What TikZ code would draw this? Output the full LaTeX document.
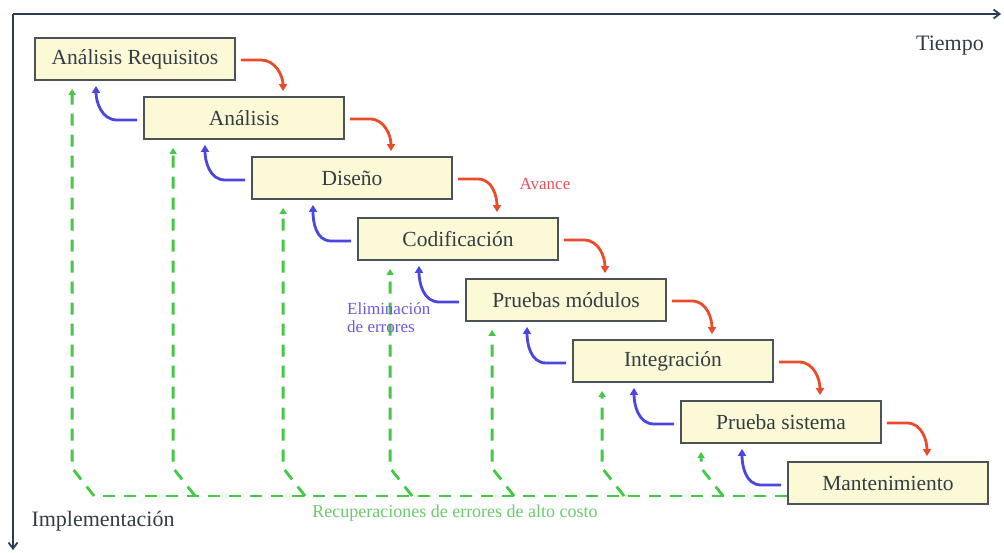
\documentclass[tikz,border=0pt]{standalone}
\usepackage{fontspec}
\setmainfont{Liberation Serif}
\newfontfamily\diagfont{Liberation Serif}
\usetikzlibrary{arrows.meta,calc}
\definecolor{boxfill}{HTML}{FCF9D6}
\definecolor{boxline}{HTML}{4A5358}
\definecolor{txt}{HTML}{333D44}
\definecolor{axis}{HTML}{2E3B55}
\definecolor{redc}{HTML}{EA4B2A}
\definecolor{bluec}{HTML}{4B46E0}
\definecolor{greenc}{HTML}{45C845}
\definecolor{avance}{HTML}{E8505A}
\definecolor{elim}{HTML}{6B5AE0}
\definecolor{recup}{HTML}{6CCB6C}
\tikzset{
  phase/.style={draw=boxline, line width=1.8pt, fill=boxfill, minimum width=200pt, minimum height=42pt, inner sep=0pt, text=txt, font=\diagfont\fontsize{21.5}{24}\selectfont},
  fwd/.style={draw=redc, line width=2.8pt, -{Triangle[length=7pt,width=8pt]}},
  back/.style={draw=bluec, line width=2.8pt, -{Triangle[length=7pt,width=8pt]}},
  rec/.style={draw=greenc, line width=2.8pt, dash pattern=on 12pt off 9pt},
  recarr/.style={rec, -{Triangle[length=6pt,width=7pt]}},
  ax/.style={draw=axis, line width=1.8pt, -{Straight Barb[length=6pt,width=9pt]}},
  lbl/.style={inner sep=0pt, font=\diagfont\fontsize{22}{25}\selectfont, text=txt}
}
\begin{document}
\begin{tikzpicture}[x=1pt,y=-1pt]
\useasboundingbox (0,0) rectangle (1004,552);
\fill[white] (0,0) rectangle (1004,552);

% axes
\coordinate (origin) at (13,14);
\coordinate (tend) at (1001,14);
\coordinate (iend) at (13,550);
\draw[ax] (origin) -- (tend);
\draw[ax] (origin) -- (iend);
\node[lbl] (tiempo) at (950,46) {Tiempo};
\node[lbl] (impl) at (103,521) {Implementación};

% phases
\node[phase] (b1) at (135,59) {Análisis Requisitos};
\node[phase] (b2) at (244,118) {Análisis};
\node[phase] (b3) at (352,178) {Diseño};
\node[phase] (b4) at (458,239) {Codificación};
\node[phase] (b5) at (566,300) {Pruebas módulos};
\node[phase] (b6) at (673,361) {Integración};
\node[phase] (b7) at (781,422) {Prueba sistema};
\node[phase] (b8) at (888,483) {Mantenimiento};

% forward (red) arrows
\foreach \a/\b in {b1/b2,b2/b3,b3/b4,b4/b5,b5/b6,b6/b7,b7/b8}{
  \draw[fwd] ([xshift=5pt,yshift=-1pt]\a.east) -- ++(20,0)
    to[out=0,in=90] ([xshift=39pt,yshift=5pt]\b.north);
}

% backward (blue) arrows
\foreach \a/\b in {b2/b1,b3/b2,b4/b3,b5/b4,b6/b5,b7/b6,b8/b7}{
  \draw[back] ([xshift=-6pt,yshift=-2pt]\a.west) -- ++(-20,0)
    to[out=180,in=-90] ([xshift=-39pt,yshift=-5pt]\b.south);
}

% recovery (green) paths
\coordinate (gstart) at ([yshift=-13pt]b8.west);
\coordinate (gend) at (95,496);
\draw[rec] (gstart) -- (gend);
\foreach \b/\off in {b1/38,b2/30,b3/32,b4/33,b5/27,b6/30,b7/21}{
  \coordinate (c\b) at ($(\b.south west)+(\off,0)$);
  \draw[recarr] (c\b |- gend) ++(22,0) -- ++(-22,-28) -- ([yshift=-8pt]c\b);
}

% labels
\node[inner sep=0pt, text=avance, font=\diagfont\fontsize{17}{20}\selectfont] (avance) at (545,184) {Avance};
\node[inner sep=0pt, text=elim, font=\diagfont\fontsize{17}{18}\selectfont, align=left, anchor=west] (elim) at (347,318) {Eliminación\\de errores};
\node[inner sep=0pt, text=recup, font=\diagfont\fontsize{18}{20}\selectfont] (recup) at (455,513) {Recuperaciones de errores de alto costo};
\end{tikzpicture}
\end{document}
